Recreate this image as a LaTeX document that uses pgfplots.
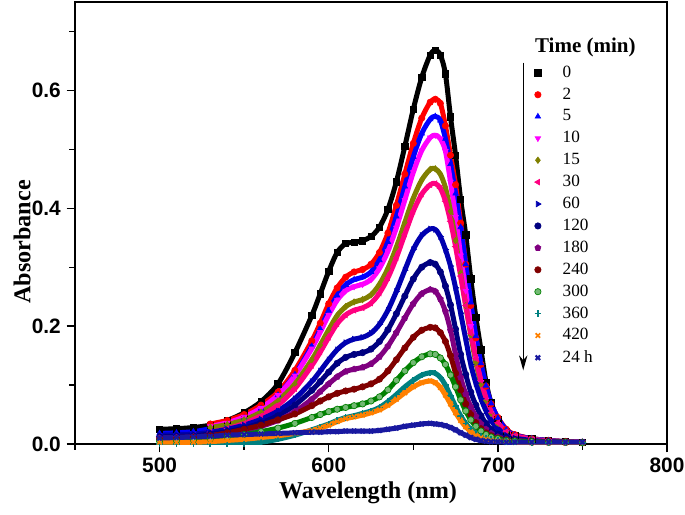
\documentclass[border=0pt]{standalone}
\usepackage{fontspec}
\setmainfont{Liberation Serif}
\newfontfamily\arialfont{Liberation Sans}
\usepackage{pgfplots}
\usepackage{pgfplotstable}
\pgfplotsset{compat=1.18}
\usetikzlibrary{arrows.meta}

\definecolor{c0}{HTML}{000000}
\definecolor{c2}{HTML}{FF0000}
\definecolor{c5}{HTML}{0000FF}
\definecolor{c10}{HTML}{FF00FF}
\definecolor{c15}{HTML}{808000}
\definecolor{c30}{HTML}{FF0080}
\definecolor{c60}{HTML}{0000B0}
\definecolor{c120}{HTML}{000080}
\definecolor{c180}{HTML}{800080}
\definecolor{c240}{HTML}{800000}
\definecolor{c300}{HTML}{008000}
\definecolor{c360}{HTML}{008080}
\definecolor{c420}{HTML}{FF8000}
\definecolor{c24h}{HTML}{1818A0}

\pgfplotstableread{
wl  t0    t2    t5    t10   t15   t30   t60   t120  t180  t240  t300  t360  t420  t24h
500 0.025 nan   0.018 nan   nan   0.012 0.015 0.012 0.010 0.008 0.005 0.000 0.003 0.010
510 0.026 nan   0.019 nan   nan   0.013 0.016 0.013 0.011 0.009 0.006 0.000 0.003 0.011
520 0.028 nan   0.021 nan   nan   0.015 0.017 0.014 0.012 0.011 0.007 0.000 0.003 0.012
530 0.032 0.034 0.026 0.030 0.028 0.020 0.020 0.017 0.014 0.014 0.009 0.000 0.004 0.013
540 0.040 0.040 0.033 0.036 0.033 0.026 0.025 0.021 0.018 0.019 0.012 0.000 0.006 0.015
550 0.053 0.050 0.044 0.046 0.041 0.035 0.032 0.027 0.023 0.025 0.016 0.001 0.008 0.016
560 0.072 0.066 0.060 0.061 0.054 0.048 0.042 0.036 0.030 0.032 0.021 0.003 0.011 0.017
570 0.102 0.088 0.083 0.083 0.073 0.066 0.056 0.048 0.040 0.041 0.027 0.008 0.014 0.018
580 0.155 0.125 0.118 0.116 0.102 0.094 0.077 0.066 0.055 0.051 0.035 0.015 0.018 0.019
590 0.218 0.175 0.166 0.162 0.143 0.133 0.106 0.091 0.076 0.065 0.045 0.024 0.023 0.020
595 0.255 0.205 0.195 0.190 0.168 0.156 0.124 0.106 0.089 0.073 0.050 0.029 0.027 0.020
600 0.293 0.238 0.226 0.219 0.194 0.181 0.143 0.122 0.102 0.080 0.055 0.034 0.032 0.021
605 0.325 0.265 0.252 0.244 0.218 0.204 0.160 0.137 0.114 0.086 0.059 0.040 0.038 0.021
610 0.340 0.283 0.270 0.260 0.233 0.219 0.172 0.147 0.123 0.090 0.062 0.045 0.043 0.022
615 0.342 0.292 0.279 0.267 0.241 0.227 0.178 0.152 0.127 0.093 0.065 0.048 0.046 0.022
620 0.345 0.296 0.283 0.271 0.245 0.231 0.181 0.155 0.130 0.097 0.068 0.052 0.049 0.022
625 0.352 0.305 0.292 0.279 0.253 0.239 0.188 0.161 0.136 0.102 0.073 0.056 0.053 0.022
630 0.368 0.325 0.312 0.298 0.271 0.256 0.203 0.174 0.148 0.110 0.080 0.062 0.058 0.023
635 0.398 0.358 0.343 0.327 0.298 0.282 0.227 0.194 0.166 0.124 0.092 0.072 0.066 0.025
640 0.445 0.405 0.386 0.367 0.334 0.316 0.259 0.221 0.189 0.143 0.108 0.084 0.076 0.027
645 0.505 0.458 0.437 0.414 0.376 0.356 0.295 0.251 0.214 0.163 0.124 0.097 0.087 0.030
650 0.568 0.510 0.487 0.461 0.417 0.395 0.330 0.280 0.238 0.181 0.138 0.108 0.097 0.032
655 0.622 0.553 0.527 0.498 0.448 0.424 0.354 0.300 0.255 0.193 0.148 0.117 0.104 0.034
660 0.660 0.580 0.551 0.520 0.466 0.440 0.365 0.308 0.262 0.198 0.153 0.121 0.107 0.035
663 0.668 0.585 0.556 0.524 0.467 0.442 0.364 0.305 0.259 0.197 0.152 0.120 0.104 0.034
666 0.660 0.578 0.549 0.518 0.458 0.434 0.352 0.292 0.246 0.189 0.146 0.113 0.096 0.033
669 0.628 0.540 0.518 0.497 0.435 0.412 0.330 0.268 0.225 0.174 0.135 0.100 0.083 0.031
672 0.555 0.490 0.475 0.445 0.395 0.378 0.302 0.236 0.193 0.150 0.117 0.082 0.068 0.028
675 0.490 0.440 0.425 0.385 0.345 0.335 0.265 0.195 0.152 0.120 0.097 0.064 0.053 0.024
678 0.415 0.375 0.368 0.320 0.290 0.285 0.222 0.152 0.113 0.092 0.075 0.048 0.040 0.019
681 0.355 0.305 0.305 0.260 0.235 0.235 0.178 0.118 0.085 0.068 0.056 0.035 0.029 0.015
684 0.280 0.235 0.240 0.200 0.185 0.188 0.135 0.088 0.063 0.050 0.041 0.025 0.021 0.011
687 0.215 0.180 0.183 0.145 0.138 0.145 0.103 0.066 0.047 0.036 0.030 0.018 0.015 0.008
690 0.160 0.135 0.137 0.105 0.102 0.108 0.077 0.048 0.034 0.026 0.022 0.013 0.011 0.006
693 0.105 0.098 0.099 0.075 0.074 0.078 0.056 0.035 0.025 0.019 0.016 0.010 0.008 0.005
696 0.070 0.068 0.069 0.052 0.052 0.055 0.040 0.025 0.018 0.014 0.012 0.008 0.006 0.004
700 0.042 0.045 0.044 0.034 0.034 0.036 0.026 0.017 0.012 0.010 0.009 0.006 0.005 0.004
705 0.022 0.025 0.024 0.020 0.020 0.021 0.015 0.011 0.008 0.007 0.006 0.004 0.004 0.003
710 0.015 0.016 0.015 0.013 0.013 0.014 0.010 0.008 0.006 0.005 0.005 0.003 0.003 0.003
720 0.009 0.009 0.009 0.008 0.008 0.008 0.006 0.005 0.004 0.004 0.004 0.002 0.002 0.003
730 0.006 0.006 0.006 0.005 0.005 0.005 0.004 0.004 0.003 0.003 0.003 0.002 0.002 0.003
740 0.004 0.004 0.004 0.004 0.004 0.004 0.003 0.003 0.003 0.003 0.003 0.002 0.002 0.003
750 0.003 0.003 0.003 0.003 0.003 0.003 0.003 0.003 0.002 0.002 0.002 0.002 0.002 0.003
}\datatable

\pgfplotsset{
  ln/.style={line width=3pt, smooth, forget plot, line join=round, line cap=round},
  mk/.style={only marks, mark size=1.9pt},
}

\begin{document}
\begin{tikzpicture}
\begin{axis}[
  scale only axis, width=355.2pt, height=265.2pt,
  xmin=450, xmax=800, ymin=0, ymax=0.75,
  axis line style={line width=0.8pt},
  every tick/.style={line width=0.8pt, black},
  xtick={500,600,700,800}, minor xtick={450,550,650,750},
  ytick={0,0.2,0.4,0.6}, minor ytick={0.1,0.3,0.5,0.7},
  xtick pos=bottom, ytick pos=left, tick align=outside,
  major tick length=5pt, minor tick length=3.5pt,
  /pgf/number format/assume math mode=true,
  ticklabel style={font=\arialfont\bfseries\fontsize{12.5}{15}\selectfont},
  yticklabel style={/pgf/number format/.cd, fixed, fixed zerofill, precision=1},
  xticklabel style={/pgf/number format/1000 sep={}},
  xlabel={Wavelength (nm)}, ylabel={Absorbance},
  label style={font=\bfseries\fontsize{14.5}{17}\selectfont},
  xlabel style={at={(axis description cs:0.495,-0.111)}, anchor=center},
  ylabel style={at={(axis description cs:-0.0895,0.457)}, anchor=center},
  legend cell align=left,
  legend style={at={(axis description cs:0.776,0.860)}, anchor=north west,
    draw=none, fill=none, inner sep=0pt, row sep=2.8pt,
    font=\fontsize{10.3}{12}\selectfont,
    nodes={inner sep=1pt},
    /tikz/every odd column/.append style={column sep=12pt}},
]
\addplot[c0, ln] table[x=wl,y=t0]{\datatable};
\addplot[c0, mk, mark=square*] table[x=wl,y=t0]{\datatable};
\addlegendentry{0}
\addplot[c2, ln] table[x=wl,y=t2]{\datatable};
\addplot[c2, mk, mark=*] table[x=wl,y=t2]{\datatable};
\addlegendentry{2}
\addplot[c5, ln] table[x=wl,y=t5]{\datatable};
\addplot[c5, mk, mark=triangle*] table[x=wl,y=t5]{\datatable};
\addlegendentry{5}
\addplot[c10, ln] table[x=wl,y=t10]{\datatable};
\addplot[c10, mk, mark=triangle*, mark options={rotate=180}] table[x=wl,y=t10]{\datatable};
\addlegendentry{10}
\addplot[c15, ln] table[x=wl,y=t15]{\datatable};
\addplot[c15, mk, mark=diamond*] table[x=wl,y=t15]{\datatable};
\addlegendentry{15}
\addplot[c30, ln] table[x=wl,y=t30]{\datatable};
\addplot[c30, mk, mark=triangle*, mark options={rotate=90}] table[x=wl,y=t30]{\datatable};
\addlegendentry{30}
\addplot[c60, ln] table[x=wl,y=t60]{\datatable};
\addplot[c60, mk, mark=triangle*, mark options={rotate=-90}] table[x=wl,y=t60]{\datatable};
\addlegendentry{60}
\addplot[c120, ln] table[x=wl,y=t120]{\datatable};
\addplot[c120, mk, mark=*] table[x=wl,y=t120]{\datatable};
\addlegendentry{120}
\addplot[c180, ln] table[x=wl,y=t180]{\datatable};
\addplot[c180, mk, mark=pentagon*] table[x=wl,y=t180]{\datatable};
\addlegendentry{180}
\addplot[c240, ln] table[x=wl,y=t240]{\datatable};
\addplot[c240, mk, mark=*] table[x=wl,y=t240]{\datatable};
\addlegendentry{240}
\addplot[c300, ln] table[x=wl,y=t300]{\datatable};
\addplot[c300, mk, mark=*, mark options={fill=c300!55!white}] table[x=wl,y=t300]{\datatable};
\addlegendentry{300}
\addplot[c360, ln] table[x=wl,y=t360]{\datatable};
\addplot[c360, mk, mark=+, mark options={line width=1pt}] table[x=wl,y=t360]{\datatable};
\addlegendentry{360}
\addplot[c420, ln] table[x=wl,y=t420]{\datatable};
\addplot[c420, mk, mark=x, mark options={line width=1pt}] table[x=wl,y=t420]{\datatable};
\addlegendentry{420}
\addplot[c24h, ln] table[x=wl,y=t24h]{\datatable};
\addplot[c24h, mk, mark=x, mark options={line width=1.3pt}] table[x=wl,y=t24h]{\datatable};
\addlegendentry{24 h}
\node[anchor=west, font=\bfseries\fontsize{12.6}{15}\selectfont, inner sep=0pt] at (axis cs:721.8,0.673) {Time (min)};
\draw[line width=0.6pt, -{Stealth[length=9pt,width=5pt]}] (axis cs:715,0.647) -- (axis cs:715,0.125);
\end{axis}
\pgfresetboundingbox
\path[use as bounding box] (-45pt,-42pt) rectangle (366pt,266.4pt);
\end{tikzpicture}
\end{document}
